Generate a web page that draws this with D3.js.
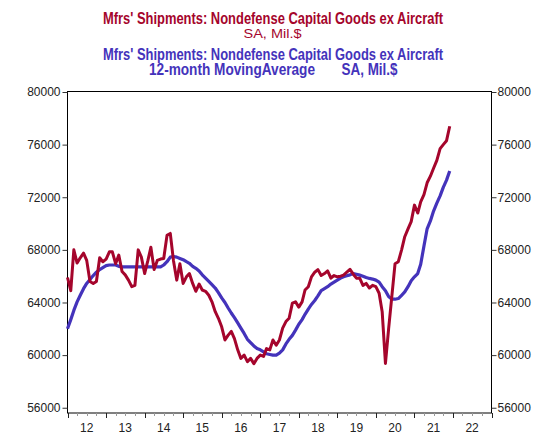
<!DOCTYPE html>
<html><head><meta charset="utf-8">
<script src="https://cdn.jsdelivr.net/npm/d3@7"></script>
<style>body{margin:0;background:#fff}svg{display:block}</style>
</head><body>
<svg id="c" width="536" height="438"></svg>
<script>
// Monthly shipments, Jan 2012 .. Dec 2021 (Mil.$)
const startYear = 2012;
const shipments = [
  65900,64900,68000,67000,67400,67750,67200,65600,65450,65600,67400,67100,
  67300,67850,67850,66950,67600,66350,66100,65700,65200,65300,68000,67450,
  66200,67200,68200,66500,67200,67300,67350,69100,69250,67200,65700,66950,
  65450,65950,66200,65450,64850,65400,64950,64850,64550,64050,63300,62800,
  62150,61150,61500,61800,61250,60400,59750,60000,59500,59750,59350,59750,
  60000,59900,60500,60400,61150,60750,61150,62050,62550,62800,63950,64050,
  63650,64050,64950,65200,65950,66300,66500,66050,66200,66400,65850,66050,
  65950,66000,66080,66300,66520,66150,65850,65850,65300,65450,65100,65300,
  65200,64700,63300,59370,62000,64500,66950,67100,68000,69000,69600,70150,
  71400,70800,71650,72200,73100,73600,74200,74800,75700,76000,76300,77400
];
// 12-month moving average, Jan 2012 .. Dec 2021
const movingAvg = [
  62000,62700,63400,64050,64550,65050,65450,65750,66050,66300,66500,66650,
  66800,66850,66850,66850,66750,66700,66700,66700,66700,66700,66700,66700,
  66700,66700,66700,66700,66700,66700,66850,67100,67450,67500,67450,67350,
  67250,67100,66980,66750,66600,66400,66100,65850,65600,65350,65100,64750,
  64350,64000,63600,63200,62850,62450,62050,61650,61200,60950,60700,60500,
  60400,60250,60100,60050,60000,60000,60150,60400,60850,61200,61500,61900,
  62350,62700,63100,63500,63850,64150,64500,64900,65050,65200,65400,65550,
  65700,65850,65950,66030,66100,66200,66150,66080,66000,65900,65830,65780,
  65700,65550,65200,64900,64450,64250,64250,64300,64550,64800,65200,65650,
  65950,66200,66900,68300,69600,70200,70950,71550,72100,72750,73300,74000
];
const yTicks = [56000,60000,64000,68000,72000,76000,80000];
const xYears = [2012,2013,2014,2015,2016,2017,2018,2019,2020,2021,2022];
const titleRed = ["Mfrs' Shipments: Nondefense Capital Goods ex Aircraft", "SA, Mil.$"];
const titleBlue = ["Mfrs' Shipments: Nondefense Capital Goods ex Aircraft", "12-month MovingAverage", "SA, Mil.$"];

const RED = "#a5052c", BLUE = "#4433bb";
const L = 67.5, R = 491.5, T = 92, B = 413;
const svg = d3.select("#c");
const x = d3.scaleTime().domain([new Date(2012,0,1), new Date(2023,0,1)]).range([L, R]);
const y = d3.scaleLinear().domain([55600, 80000]).range([B, T]);
const dateOf = i => new Date(startYear, i, 1);

// titles
const tf = "'Liberation Sans Narrow','Arial Narrow','Liberation Sans',Arial,sans-serif";
function txt(s, x0, w, base, col, bold, size){
  svg.append("text").attr("x", x0).attr("y", base).attr("fill", col)
    .attr("font-family", tf).attr("font-size", size).attr("font-weight", bold ? "bold" : "normal")
    .attr("textLength", w).attr("lengthAdjust", "spacingAndGlyphs").text(s);
}
txt(titleRed[0], 103, 340, 23.5, RED, true, 16);
txt(titleRed[1], 243.5, 58, 38, RED, false, 12);
txt(titleBlue[0], 103, 340, 59.5, BLUE, true, 16);
txt(titleBlue[1], 149, 166, 75, BLUE, true, 16);
txt(titleBlue[2], 341.5, 56, 75, BLUE, true, 16);

// frame
svg.append("rect").attr("x", L).attr("y", T-0.5).attr("width", R-L).attr("height", B-T+0.5)
  .attr("fill", "none").attr("stroke", "#000").attr("stroke-width", 1);

// y axes
const af = "'Liberation Sans',Arial,sans-serif";
const yl = svg.append("g").attr("transform", `translate(${L},0)`)
  .call(d3.axisLeft(y).tickValues(yTicks).tickSize(5).tickPadding(2).tickFormat(d3.format("d")));
const yr = svg.append("g").attr("transform", `translate(${R},0)`)
  .call(d3.axisRight(y).tickValues(yTicks).tickSize(5).tickPadding(1).tickFormat(d3.format("d")));
[yl, yr].forEach(g => {
  g.select(".domain").remove();
  g.selectAll("text").attr("font-family", af).attr("font-size", 12).attr("fill", "#222");
  g.selectAll("line").attr("stroke", "#333");
});

// x axis: quarterly minor ticks, yearly major ticks, labels mid-year
const quarters = d3.timeMonth.every(3).range(new Date(2012,0,1), new Date(2023,0,2));
svg.append("g").selectAll("line").data(quarters).join("line")
  .attr("x1", d => Math.round(x(d))+0.5).attr("x2", d => Math.round(x(d))+0.5)
  .attr("y1", B).attr("y2", d => d.getMonth()===0 ? B+5 : B+3)
  .attr("stroke", d => d.getMonth()===0 ? "#222" : "#999").attr("stroke-width", 1);
svg.append("g").selectAll("text").data(xYears).join("text")
  .attr("x", d => x(new Date(d,6,1))).attr("y", 432).attr("text-anchor", "middle")
  .attr("font-family", af).attr("font-size", 12).attr("fill", "#222")
  .text(d => String(d).slice(2));

// lines
const line = d3.line().x((d,i) => x(dateOf(i))).y(d => y(d));
svg.append("path").datum(movingAvg).attr("d", line).attr("fill", "none")
  .attr("stroke", BLUE).attr("stroke-width", 3.2).attr("stroke-linejoin", "round");
svg.append("path").datum(shipments).attr("d", line).attr("fill", "none")
  .attr("stroke", RED).attr("stroke-width", 3).attr("stroke-linejoin", "round");
</script>
</body></html>
